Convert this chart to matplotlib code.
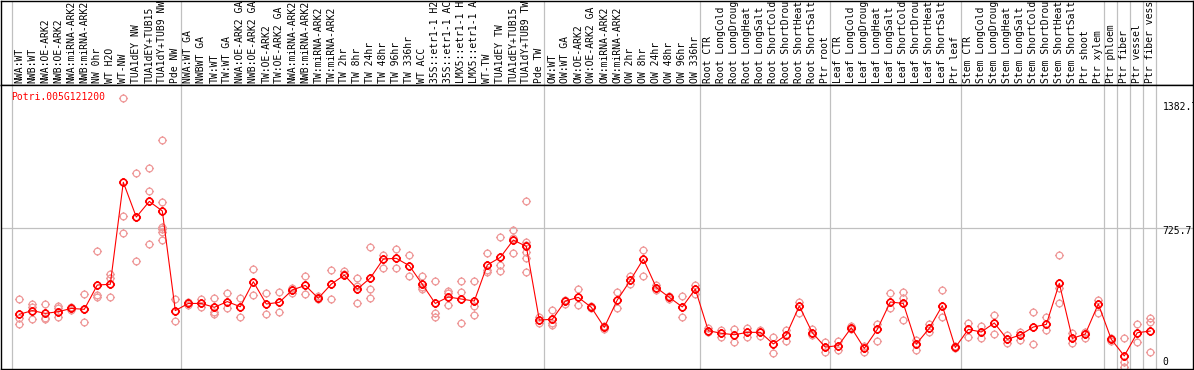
import matplotlib
matplotlib.use('Agg')
import matplotlib.pyplot as plt
from matplotlib.path import Path
import numpy as np

gene = 'Potri.005G121200'

# column labels, as far as the header shows them
labels = [
    'NWA:WT', 'NWB:WT', 'NWA:OE-ARK2', 'NWB:OE-ARK2', 'NWA:miRNA-ARK2', 'NWB:miRNA-ARK2',
    'NW 0hr', 'WT H2O', 'WT-NW', 'TUA1dEY NW', 'TUA1dEY+TUB15', 'TUA1dY+TUB9 NW', 'Pde NW',
    'NWA:WT GA', 'NWBWT GA', 'TW:WT', 'TW:WT GA', 'NWA:OE-ARK2 GA', 'NWB:OE-ARK2 GA',
    'TW:OE-ARK2', 'TW:OE-ARK2 GA', 'NWA:miRNA-ARK2', 'NWB:miRNA-ARK2', 'TW:miRNA-ARK2',
    'TW:miRNA-ARK2', 'TW 2hr', 'TW 8hr', 'TW 24hr', 'TW 48hr', 'TW 96hr', 'TW 336hr',
    'WT ACC', '35S::etr1-1 H2', '35S::etr1-1 AC', 'LMX5::etr1-1 H', 'LMX5::etr1-1 A',
    'WT-TW', 'TUA1dEY TW', 'TUA1dEY+TUB15', 'TUA1dY+TUB9 TW', 'Pde TW',
    'OW:WT', 'OW:WT GA', 'OW:OE-ARK2', 'OW:OE-ARK2 GA', 'OW:miRNA-ARK2', 'OW:miRNA-ARK2',
    'OW 2hr', 'OW 8hr', 'OW 24hr', 'OW 48hr', 'OW 96hr', 'OW 336hr',
    'Root CTR', 'Root LongCold', 'Root LongDroug', 'Root LongHeat', 'Root LongSalt',
    'Root ShortCold', 'Root ShortDrou', 'Root ShortHeat', 'Root ShortSalt', 'Ptr root',
    'Leaf CTR', 'Leaf LongCold', 'Leaf LongDroug', 'Leaf LongHeat', 'Leaf LongSalt',
    'Leaf ShortCold', 'Leaf ShortDrou', 'Leaf ShortHeat', 'Leaf ShortSalt', 'Ptr leaf',
    'Stem CTR', 'Stem LongCold', 'Stem LongDroug', 'Stem LongHeat', 'Stem LongSalt',
    'Stem ShortCold', 'Stem ShortDrou', 'Stem ShortHeat', 'Stem ShortSalt', 'Ptr shoot',
    'Ptr xylem', 'Ptr phloem', 'Ptr fiber', 'Ptr vessel', 'Ptr fiber vess',
]

group_sizes = [13, 28, 12, 10, 10, 11, 1, 1, 1, 1]

means = [
    259, 279, 264, 273, 291, 286, 418, 422, 976, 787, 872, 820, 279,
    318, 318, 297, 328, 300, 436, 315, 324, 391, 416, 346, 423, 472, 396, 456,
    559, 563, 523, 422, 318, 353, 342, 331, 527, 568, 662, 628, 228,
    232, 331, 351, 297, 188, 337, 443, 559, 404, 351, 299, 396,
    170, 156, 148, 161, 161, 98, 147, 304, 159, 81,
    89, 186, 74, 177, 326, 318, 98, 183, 306, 79,
    177, 163, 212, 123, 147, 190, 204, 427, 128, 152, 315,
    123, 33, 159, 168,
]

replicates = [
    [342, 237, 204], [315, 300, 232], [315, 240, 235], [306, 291, 242], [300, 291, 282],
    [367, 286, 215], [603, 364, 351], [476, 454, 351], [1432, 793, 699], [1024, 790, 547],
    [1053, 927, 639], [1204, 869, 735, 722, 708, 661], [342, 221],
    [325, 312], [340, 300], [349, 273, 259], [373, 291], [349, 242], [505, 364],
    [373, 259], [378, 270], [400, 373], [467, 367], [358, 340], [500, 342], [496, 476],
    [456, 413, 318], [622, 394, 346], [581, 509], [613, 509], [579, 469], [465, 409, 396],
    [440, 268, 246], [385, 373, 308], [440, 378, 212], [440, 306, 255], [590, 500, 490],
    [677, 527, 496], [715, 671, 590], [872, 650, 635, 599, 566, 487], [246, 210],
    [280, 210, 201], [337, 315], [396, 309], [304, 291], [197, 179], [378, 291],
    [467, 423], [606, 467], [418, 391], [358, 340], [358, 242], [418, 369],
    [183, 165], [174, 134], [179, 110], [186, 137], [174, 143], [134, 47], [174, 114],
    [328, 264], [177, 147], [110, 56],
    [114, 65], [197, 177], [89, 56], [208, 114], [373, 291], [378, 346, 226], [119, 65],
    [204, 161], [391, 242], [89, 74],
    [213, 136], [197, 128], [255, 152], [147, 105], [165, 119], [273, 96], [242, 174],
    [579, 400, 318], [156, 105], [165, 128], [337, 264],
    [130, 116], [128, 2, -25], [206, 107], [241, 219, 52],
]

y_labels = [0, 725.7, 1382.7]

GRAY = '#c0c0c0'
RED = '#ff0000'
PINK = '#ef9a9a'
FONT = 'DejaVu Sans Mono'


def ring_marker():
    # circle with four small ticks, like the pixel markers of the original
    circle = Path.unit_circle()
    ticks = Path([(0, 1), (0, 1.35), (0, -1), (0, -1.35),
                  (1, 0), (1.35, 0), (-1, 0), (-1.35, 0)],
                 [Path.MOVETO, Path.LINETO] * 4)
    return Path.make_compound_path(circle, ticks)


def main():
    W, H = 1194, 370
    fig = plt.figure(figsize=(W / 100, H / 100), dpi=100)
    n = len(labels)
    px0, pxw = 19.3, 13.0
    xlim = ((1 - px0) / pxw, (1193 - px0) / pxw)

    head_top, head_bot, plot_bot = 0.5, 85, 369
    ax_h = fig.add_axes([1 / W, 1 - head_bot / H, 1192 / W, (head_bot - head_top) / H])
    ax = fig.add_axes([1 / W, 1 - plot_bot / H, 1192 / W, (plot_bot - head_bot) / H])

    for a in (ax_h, ax):
        a.set_xlim(*xlim)
        a.set_xticks([])
        a.set_yticks([])
        for s in a.spines.values():
            s.set_color('black')
            s.set_linewidth(1.0)

    ax.set_ylim((362 - plot_bot) * 5.43, (362 - head_bot) * 5.43)

    # group separators
    bounds = np.cumsum([0] + group_sizes) - 0.6
    for b in bounds:
        ax.axvline(b, color=GRAY, lw=0.9, zorder=1)
        ax_h.axvline(b, color=GRAY, lw=0.9, zorder=1)
    ax.axhline(725.7, color=GRAY, lw=0.9, zorder=1)

    # header labels
    tr = ax_h.get_xaxis_transform()
    for i, lab in enumerate(labels):
        ax_h.text(i, 2 / 85, lab, transform=tr, rotation=90, ha='center', va='bottom',
                  fontsize=7, family=FONT, color='black', clip_on=False)

    marker = ring_marker()
    x = np.arange(n)
    for i, reps in enumerate(replicates):
        ax.plot([x[i]] * len(reps), reps, linestyle='none', marker=marker, ms=6.5,
                mfc='none', mec=PINK, mew=0.9, zorder=2)
    ax.plot(x, means, color=RED, lw=0.8, zorder=3)
    ax.plot(x, means, linestyle='none', marker=marker, ms=6.5, mfc='none', mec=RED,
            mew=1.2, zorder=4)

    ax.text(-0.6, (362 - 97) * 5.43, gene, color=RED, fontsize=7, family=FONT,
            ha='left', va='center')

    lx = n - 0.6 + 0.55
    for v in y_labels:
        dy = -3 * 5.43 if v == 725.7 else 0
        ax.text(lx, v + dy, str(v) if v else '0', fontsize=7, family=FONT,
                ha='left', va='center', clip_on=False)

    fig.savefig('out.png', dpi=100)


if __name__ == '__main__':
    main()
